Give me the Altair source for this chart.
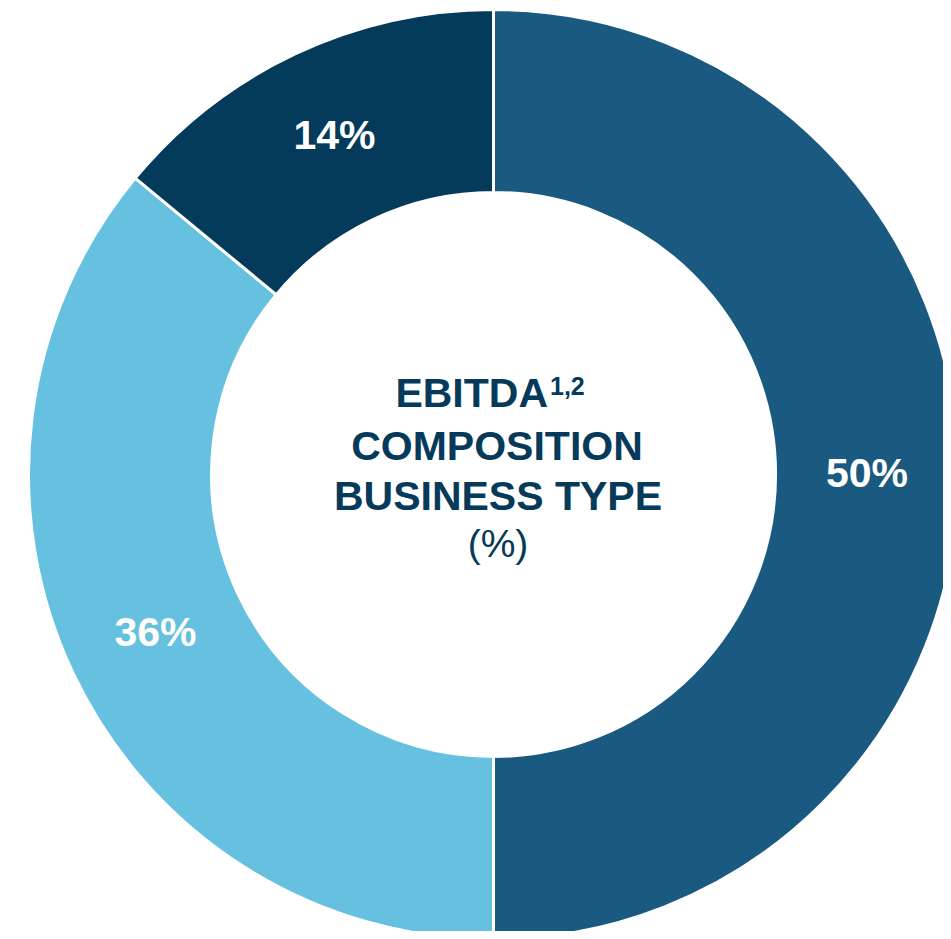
import altair as alt
import pandas as pd

# Data
segments = ["Segment A", "Segment B", "Segment C"]
values = [50, 36, 14]
labels = ["50%", "36%", "14%"]
colors = ["#1B5A80", "#65C1DF", "#043A5A"]

df = pd.DataFrame({
    "segment": segments,
    "value": values,
    "label": labels,
    "idx": list(range(len(segments))),
})

CX, CY = 485.5, 466.5
FONT = "Liberation Sans"
DARK = "#053A5A"

base = alt.Chart(df).encode(
    theta=alt.Theta("value:Q", stack=True),
    order=alt.Order("idx:Q"),
    x=alt.value(CX),
    y=alt.value(CY),
)

arcs = base.mark_arc(outerRadius=465, innerRadius=282, stroke="white", strokeWidth=3).encode(
    color=alt.Color("segment:N", scale=alt.Scale(domain=segments, range=colors), legend=None)
)

pct = base.mark_text(radius=373.5, fontSize=41, fontWeight="bold", font=FONT,
                     color="white", baseline="middle", align="center").encode(
    text="label:N"
)

one = alt.Data(values=[{"a": 1}])

def center_text(txt, x, y, size, weight="bold", align="center"):
    return alt.Chart(one).mark_text(
        text=txt, fontSize=size, fontWeight=weight, font=FONT, color=DARK,
        align=align, baseline="alphabetic"
    ).encode(x=alt.value(x), y=alt.value(y))

t1 = center_text("EBITDA", 548 - 8, 406.5 - 8, 41, align="right")
t1s = center_text("1,2", 550 - 8, 395 - 8, 25, align="left")
t2 = center_text("COMPOSITION", 497 - 8, 460 - 8, 41)
t3 = center_text("BUSINESS TYPE", 498 - 8, 510 - 8, 41)
t4 = center_text("(%)", 498 - 8, 557 - 8, 39, weight="normal")

chart = alt.layer(arcs, pct, t1, t1s, t2, t3, t4).properties(
    width=935, height=923, padding=0, autosize=alt.AutoSizeParams(type="none")
).configure_view(stroke=None)

chart.save("out.html", embed_options={"renderer": "svg", "actions": False})
